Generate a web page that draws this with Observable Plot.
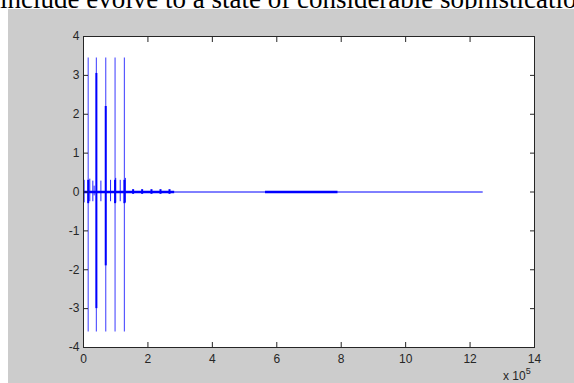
<!DOCTYPE html>
<html>
<head>
<meta charset="utf-8">
<script src="https://cdn.jsdelivr.net/npm/d3@7"></script>
<script src="https://cdn.jsdelivr.net/npm/@observablehq/plot@0.6"></script>
<style>
  html, body { margin: 0; padding: 0; background: #fff; overflow: hidden; }
  #page { position: relative; width: 574px; height: 383px; overflow: hidden; }
  #caption { position: absolute; left: 0px; top: -14px; font-family: "Liberation Serif", "Times New Roman", serif; font-size: 27px; line-height: 27px; color: #000; white-space: nowrap; }
  #panel { position: absolute; left: 8px; top: 9px; width: 566px; height: 374px; background: #cccccc; }
  #expo { position: absolute; left: 503px; top: 366px; font-family: "Liberation Sans", Arial, sans-serif; font-size: 12px; color: #262626; white-space: nowrap; }
  #expo sup { font-size: 9px; vertical-align: 6px; }
</style>
</head>
<body>
<div id="page">
  <div id="caption">include evolve to a state of considerable sophistication</div>
  <div id="panel"></div>
  <div id="expo">x 10<sup>5</sup></div>
</div>
<script>
// ---- data (x in samples, y in signal units) ----
const bigSpikeX    = [14600, 40000, 69000, 98000, 127000];
const bigSpikeHigh = [3.45, 3.45, 3.45, 3.45, 3.45];
const bigSpikeLow  = [-3.6, -3.6, -3.6, -3.6, -3.6];
const denseHigh    = [0.3, 3.05, 2.2, 0.3, 0.3];
const denseLow     = [-0.3, -3.0, -1.9, -0.3, -0.3];

const smallSpikeX    = [2000, 19500, 29000, 33000, 54000, 84000, 100000, 114000, 130000];
const smallSpikeHigh = [0.3, 0.33, 0.28, 0.15, 0.28, 0.3, 0.35, 0.3, 0.35];
const smallSpikeLow  = [-0.28, -0.25, -0.25, -0.1, -0.25, -0.25, -0.28, -0.25, -0.28];

const tinySpikeX   = [154000, 182000, 211000, 239000, 267000];
const tinyAmp      = [0.06, 0.06, 0.06, 0.06, 0.06];

const bandStart    = [0, 565000];
const bandEnd      = [283000, 790000];
const signalStart  = 0;
const signalEnd    = 1238000;

const xTicks = [0, 200000, 400000, 600000, 800000, 1000000, 1200000, 1400000];
const yTicks = [-4, -3, -2, -1, 0, 1, 2, 3, 4];

// ---- build tables ----
const bigSpikes = bigSpikeX.map((x, i) => ({x, y1: bigSpikeLow[i], y2: bigSpikeHigh[i], d1: denseLow[i], d2: denseHigh[i]}));
const smallSpikes = smallSpikeX.map((x, i) => ({x, y1: smallSpikeLow[i], y2: smallSpikeHigh[i]}));
const tinySpikes = tinySpikeX.map((x, i) => ({x, y1: -tinyAmp[i], y2: tinyAmp[i]}));
const bands = bandStart.map((s, i) => ({x1: s, x2: bandEnd[i], y: 0}));
const baseline = [{x: signalStart, y: 0}, {x: signalEnd, y: 0}];

const blue = "#0000ff";
const axisColor = "#262626";
const font = "'Liberation Sans', Arial, sans-serif";

const chart = Plot.plot({
  width: 566,
  height: 374,
  marginLeft: 75,
  marginRight: 40,
  marginTop: 27,
  marginBottom: 36,
  style: { background: "transparent", fontFamily: font, fontSize: "12px", color: axisColor },
  x: { domain: [0, 1400000] },
  y: { domain: [-4, 4] },
  marks: [
    Plot.frame({ fill: "#ffffff" }),
    Plot.line(baseline, { x: "x", y: "y", stroke: blue, strokeWidth: 1 }),
    Plot.ruleY(bands, { x1: "x1", x2: "x2", y: "y", stroke: blue, strokeWidth: 2.5 }),
    Plot.ruleX(tinySpikes, { x: "x", y1: "y1", y2: "y2", stroke: blue, strokeWidth: 2 }),
    Plot.ruleX(smallSpikes, { x: "x", y1: "y1", y2: "y2", stroke: blue, strokeWidth: 1, strokeOpacity: 0.85 }),
    Plot.ruleX(bigSpikes, { x: "x", y1: "y1", y2: "y2", stroke: blue, strokeWidth: 1.2, strokeOpacity: 0.65 }),
    Plot.ruleX(bigSpikes, { x: "x", y1: "d1", y2: "d2", stroke: blue, strokeWidth: 2 }),
    Plot.axisX(xTicks, { anchor: "bottom", tickSize: -5, tickPadding: 12, tickFormat: d => String(d / 100000), stroke: axisColor, fill: axisColor, label: null }),
    Plot.axisX(xTicks.slice(1, -1), { anchor: "top", tickSize: -5, tickFormat: () => "", stroke: axisColor, label: null }),
    Plot.axisY(yTicks, { anchor: "left", tickSize: -5, tickPadding: 9, tickFormat: d => String(d), stroke: axisColor, fill: axisColor, label: null }),
    Plot.axisY(yTicks.slice(1, -1), { anchor: "right", tickSize: -5, tickFormat: () => "", stroke: axisColor, label: null }),
    Plot.frame({ stroke: axisColor, strokeWidth: 1 })
  ]
});
chart.style.position = "absolute";
chart.style.left = "8px";
chart.style.top = "9px";
document.getElementById("page").appendChild(chart);
document.getElementById("page").appendChild(document.getElementById("expo"));
</script>
</body>
</html>
